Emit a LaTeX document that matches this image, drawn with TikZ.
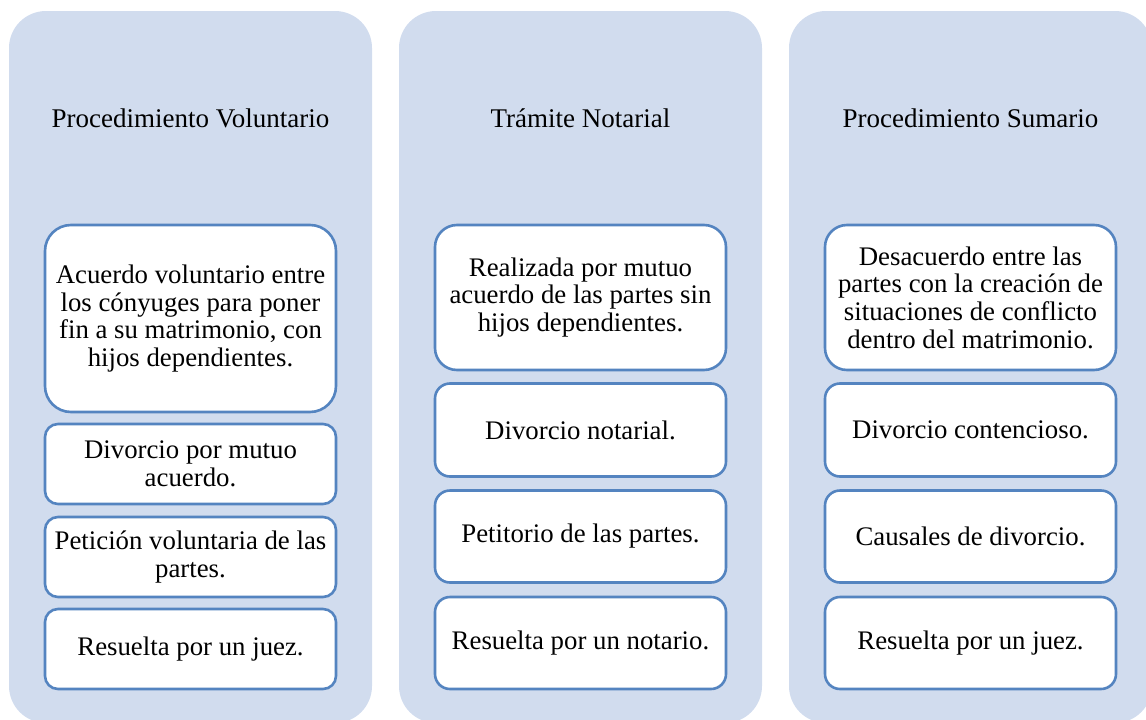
\documentclass[tikz,border=0pt]{standalone}
\usepackage{fontspec}
\setmainfont{Liberation Serif}
\definecolor{colfill}{RGB}{209,220,238}
\definecolor{boxline}{RGB}{84,132,192}
\tikzset{
  column/.style={fill=colfill, draw=none, rounded corners=37pt},
  title/.style={font=\fontsize{27}{27.7}\selectfont, align=center, text=black},
  inbox/.style={draw=boxline, line width=2.6pt, fill=white, minimum width=291pt,
    align=center, font=\fontsize{26.8}{27.7}\selectfont, inner sep=0pt},
}
\begin{document}
\begin{tikzpicture}[x=1pt,y=-1pt]
\useasboundingbox (0,0) rectangle (1146,720);
\clip (0,0) rectangle (1146,720);
% columns
\path[column] (9,11) rectangle (372,723);
\path[column] (399,11) rectangle (762,723);
\path[column] (789,11) rectangle (1152,723);
% titles
\node[title] (t1) at (190.5,118) {Procedimiento Voluntario};
\node[title] (t2) at (580.5,118) {Trámite Notarial};
\node[title] (t3) at (970.5,118) {Procedimiento Sumario};
% column 1
\node[inbox, minimum height=187pt, rounded corners=26pt] (a1) at (190.5,318.5)
  {Acuerdo voluntario entre\\los cónyuges para poner\\fin a su matrimonio, con\\hijos dependientes.};
\node[inbox, minimum height=80pt, rounded corners=13pt] (a2) at (190.5,464)
  {Divorcio por mutuo\\acuerdo.};
\node[inbox, minimum height=80pt, rounded corners=13pt] (a3) at (190.5,557)
  {Petición voluntaria de las\\partes.};
\node[inbox, minimum height=80pt, rounded corners=13pt] (a4) at (190.5,649)
  {Resuelta por un juez.};
% column 2
\node[inbox, minimum height=145pt, rounded corners=22pt] (b1) at (580.5,297.5)
  {Realizada por mutuo\\acuerdo de las partes sin\\hijos dependientes.};
\node[inbox, minimum height=93pt, rounded corners=15pt] (b2) at (580.5,430)
  {Divorcio notarial.};
\node[inbox, minimum height=92pt, rounded corners=15pt] (b3) at (580.5,536.5)
  {Petitorio de las partes.};
\node[inbox, minimum height=92pt, rounded corners=15pt] (b4) at (580.5,643)
  {Resuelta por un notario.};
% column 3
\node[inbox, minimum height=145pt, rounded corners=22pt] (c1) at (970.5,297.5)
  {Desacuerdo entre las\\partes con la creación de\\situaciones de conflicto\\dentro del matrimonio.};
\node[inbox, minimum height=93pt, rounded corners=15pt] (c2) at (970.5,430)
  {Divorcio contencioso.};
\node[inbox, minimum height=92pt, rounded corners=15pt] (c3) at (970.5,536.5)
  {Causales de divorcio.};
\node[inbox, minimum height=92pt, rounded corners=15pt] (c4) at (970.5,643)
  {Resuelta por un juez.};
\end{tikzpicture}
\end{document}
